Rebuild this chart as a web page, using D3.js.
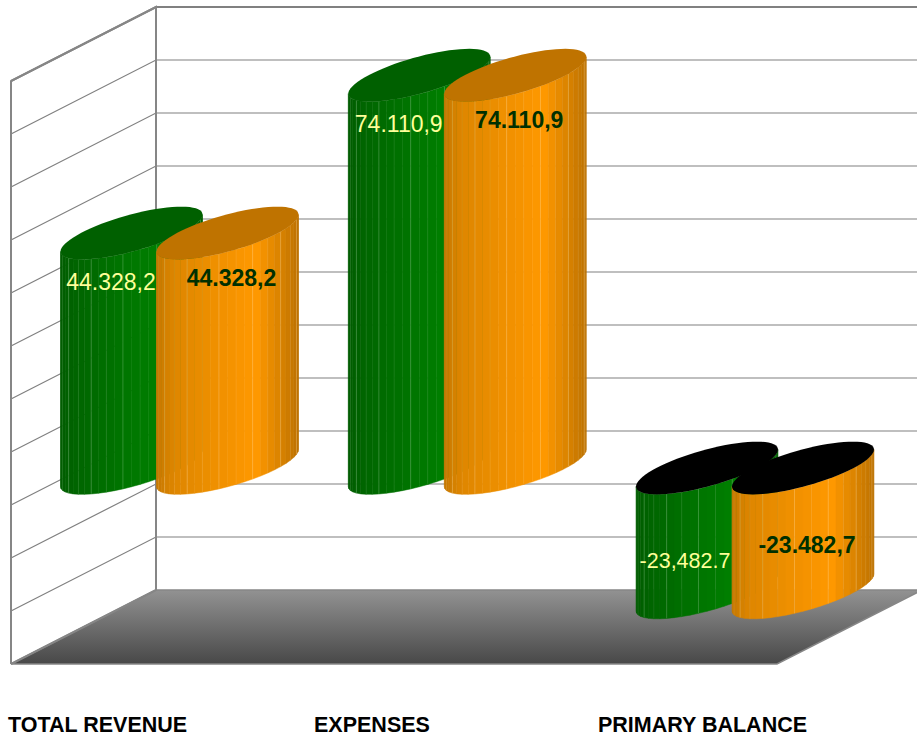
<!DOCTYPE html>
<html lang="en">
<head>
	<meta charset="UTF-8">
	<title>Revenue and expenses</title>
	<script src="https://cdn.jsdelivr.net/npm/d3@7"></script>
	<style>
		html, body { margin:0; padding:0; background:#fff; }
		svg { display:block; width:917px; height:739px; }
		text { font-family:"Liberation Sans", Arial, sans-serif; }
	</style>
</head>
<body>
	<svg></svg>
	<script>
		// data
		var categories = ["TOTAL REVENUE", "EXPENSES", "PRIMARY BALANCE"];
		var seriesNames = ["a", "b"];
		var seriesA = [44328.2, 74110.9, -23482.7];
		var seriesB = [44328.2, 74110.9, -23482.7];
		var labelsA = ["44.328,2", "74.110,9", "-23,482.7"];
		var labelsB = ["44.328,2", "74.110,9", "-23.482,7"];
		var yDomain = [-30000, 80000];

		// layout
		var categoryLabelX = [8, 314, 598];
		var wall = {left:156, right:922, top:7, bottom:590};
		var depth = {dx:-145, dy:74};
		var facets = 26;
		var radiusX = 71, tiltY = -18.5, radiusY = 18.8;
		var styles = [
			{top:"#006000", stops:["#005c00", "#006600", "#008000", "#005f00"], label:"#ffff99", weight:"normal", dx:-20.5, seam:"#9fd49f"},
			{top:"#bf7300", stops:["#c67800", "#de8600", "#ff9900", "#bd7200"], label:"#003000", weight:"bold", dx:4, seam:"#ffe0a0"}
		];

		var svg = d3.select("svg");
		var y = d3.scaleLinear().domain(yDomain).range([wall.bottom, wall.top]);
		var x = d3.scalePoint().domain(categories).range([179.5, 755]);
		var xSeries = d3.scalePoint().domain(seriesNames).range([-48, 48]);
		var midDy = depth.dy / 2;

		var defs = svg.append("defs");
		var floorGrad = defs.append("linearGradient").attr("id", "floor")
			.attr("x1", 0).attr("y1", 0).attr("x2", 0).attr("y2", 1);
		floorGrad.append("stop").attr("offset", 0).attr("stop-color", "#929292");
		floorGrad.append("stop").attr("offset", 1).attr("stop-color", "#484848");

		// floor
		svg.append("path")
			.attr("d", "M" + wall.left + "," + wall.bottom + "L" + wall.right + "," + wall.bottom +
				"L" + (wall.right + depth.dx) + "," + (wall.bottom + depth.dy) +
				"L" + (wall.left + depth.dx) + "," + (wall.bottom + depth.dy) + "Z")
			.attr("fill", "url(#floor)")
			.attr("stroke", "#868686")
			.attr("stroke-width", 1.5);

		// grid lines on both walls
		var ticks = y.ticks(11);
		var grid = svg.append("g").attr("stroke", "#808080").attr("fill", "none");
		ticks.forEach(function(t) {
			if (t === yDomain[0]) return;
			grid.append("path")
				.attr("d", "M" + (wall.left + depth.dx) + "," + (y(t) + depth.dy) + "L" + wall.left + "," + y(t) + "L" + wall.right + "," + y(t))
				.attr("stroke-width", t === yDomain[1] ? 2 : 1.2);
		});

		// wall frame
		svg.append("path")
			.attr("d", "M" + (wall.left + depth.dx) + "," + (wall.bottom + depth.dy) +
				"V" + (wall.top + depth.dy) + "L" + wall.left + "," + wall.top + "V" + wall.bottom +
				"M" + (wall.left + depth.dx) + "," + (wall.bottom + depth.dy) + "L" + wall.left + "," + wall.bottom)
			.attr("fill", "none")
			.attr("stroke", "#868686")
			.attr("stroke-width", 2);

		function pointOn(cx, cy, t) {
			return [cx + radiusX * Math.cos(t), cy + tiltY * Math.cos(t) + radiusY * Math.sin(t)];
		}

		function drawBar(g, cx, value, style) {
			var yTop = y(Math.max(value, 0)) + midDy;
			var yBase = y(Math.min(value, 0)) + midDy;
			var color = d3.scaleLinear().domain([0, 0.12, 0.7, 1]).range(style.stops);
			var step = Math.PI / facets;

			d3.range(facets).forEach(function(i) {
				var t0 = Math.PI - i * step, t1 = t0 - step;
				var a = pointOn(cx, yTop, t0), b = pointOn(cx, yTop, t1);
				var c = pointOn(cx, yBase, t1), d = pointOn(cx, yBase, t0);
				var fill = color((a[0] + b[0] - 2 * cx + 2 * radiusX) / (4 * radiusX));
				g.append("polygon")
					.attr("points", [a, b, c, d].join(" "))
					.attr("fill", fill)
					.attr("stroke", fill)
					.attr("stroke-width", 0.5);
				if (i > 0 && i % 2 === 0) {
					g.append("line")
						.attr("x1", a[0]).attr("y1", a[1]).attr("x2", d[0]).attr("y2", d[1])
						.attr("stroke", style.seam)
						.attr("stroke-width", 0.7)
						.attr("stroke-opacity", i % 4 === 0 ? 0.4 : 0.15);
				}
			});

			// top cap, black where the value is negative
			g.append("path")
				.attr("d", d3.line().curve(d3.curveLinearClosed)(d3.range(72).map(function(i) {
					return pointOn(cx, yTop, i * Math.PI / 36);
				})))
				.attr("fill", value < 0 ? "#000000" : style.top);
		}

		var bars = svg.append("g");
		categories.forEach(function(cat, i) {
			drawBar(bars, x(cat) + xSeries("a"), seriesA[i], styles[0]);
			drawBar(bars, x(cat) + xSeries("b"), seriesB[i], styles[1]);
		});

		// value labels
		function labelY(value, s) {
			var top = y(Math.max(value, 0)) + midDy;
			var base = y(Math.min(value, 0)) + midDy;
			if (value >= 0) return top + (s === 0 ? 56.5 : 53);
			return (top + base) / 2 + (s === 0 ? 38 : 23);
		}
		[[seriesA, labelsA], [seriesB, labelsB]].forEach(function(pair, s) {
			categories.forEach(function(cat, i) {
				svg.append("text")
					.attr("x", x(cat) + xSeries(seriesNames[s]) + styles[s].dx - (s === 0 && pair[0][i] < 0 ? 1.5 : 0))
					.attr("y", labelY(pair[0][i], s))
					.attr("text-anchor", "middle")
					.attr("fill", styles[s].label)
					.attr("font-weight", styles[s].weight)
					.attr("font-size", (s === 0 && pair[0][i] < 0) ? 21.5 : 23)
					.text(pair[1][i]);
			});
		});

		// category labels
		svg.selectAll(".cat")
			.data(categories)
			.enter()
			.append("text")
			.attr("class", "cat")
			.attr("x", function(d, i) { return categoryLabelX[i]; })
			.attr("y", 732)
			.attr("font-size", 21.5)
			.attr("font-weight", "bold")
			.attr("fill", "#000")
			.text(function(d) { return d; });
	</script>
</body>
</html>
